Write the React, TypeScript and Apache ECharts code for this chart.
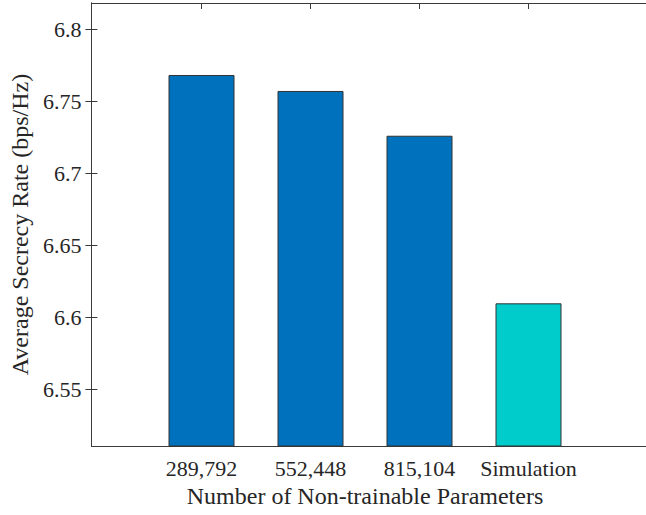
import React, { useEffect, useRef } from "react";
import * as echarts from "echarts";

const categories = ["289,792", "552,448", "815,104", "Simulation"];
const values = [6.7683, 6.7572, 6.7261, 6.6097];
const barColors = ["#0072BD", "#0072BD", "#0072BD", "#00CCCC"];
const yTicks = [6.55, 6.6, 6.65, 6.7, 6.75, 6.8];
const yMin = 6.5106;
const yMax = 6.8183;

const FONT = "Liberation Serif";
const TEXT = "#262626";
const LINE = "#3a3a3a";

export default function App() {
  const ref = useRef<HTMLDivElement>(null);
  useEffect(() => {
    if (!ref.current) return;
    const chart = echarts.init(ref.current, null, { renderer: "svg" });
    const gridPos = { top: 3, height: 443 };
    chart.setOption({
      animation: false,
      backgroundColor: "#ffffff",
      textStyle: { fontFamily: FONT },
      grid: [
        { left: 82, width: 565, ...gridPos },
        { left: 147, width: 436, ...gridPos },
      ],
      xAxis: [
        {
          gridIndex: 0, type: "value", min: 0, max: 1, position: "bottom",
          axisLine: { show: true, lineStyle: { color: LINE, width: 1 } },
          axisTick: { show: false }, axisLabel: { show: false }, splitLine: { show: false },
        },
        {
          gridIndex: 0, type: "value", min: 0, max: 1, position: "top",
          axisLine: { show: true, lineStyle: { color: LINE, width: 1 } },
          axisTick: { show: false }, axisLabel: { show: false }, splitLine: { show: false },
        },
        {
          gridIndex: 1, type: "category", data: categories, position: "bottom",
          axisLine: { show: false },
          axisTick: { show: true, inside: true, alignWithLabel: true, interval: 0, length: 6, lineStyle: { color: LINE } },
          axisLabel: { interval: 0, color: TEXT, fontFamily: FONT, fontSize: 22, margin: 11 },
          name: "Number of Non-trainable Parameters",
          nameLocation: "middle",
          nameGap: 38,
          nameTextStyle: { color: TEXT, fontFamily: FONT, fontSize: 24 },
        },
        {
          gridIndex: 1, type: "category", data: categories, position: "top",
          axisLine: { show: false },
          axisTick: { show: true, inside: true, alignWithLabel: true, interval: 0, length: 6, lineStyle: { color: LINE } },
          axisLabel: { show: false },
        },
      ],
      yAxis: [
        {
          gridIndex: 0, type: "value", min: yMin, max: yMax, position: "left",
          axisLine: { show: true, lineStyle: { color: LINE, width: 1 } },
          axisTick: { show: true, inside: true, length: 6, customValues: yTicks, lineStyle: { color: LINE } },
          axisLabel: {
            customValues: yTicks, color: TEXT, fontFamily: FONT, fontSize: 22, margin: 10,
            formatter: (v: number) => String(Math.round(v * 100) / 100),
          },
          splitLine: { show: false },
          name: "Average Secrecy Rate (bps/Hz)",
          nameLocation: "middle",
          nameGap: 57,
          nameTextStyle: { color: TEXT, fontFamily: FONT, fontSize: 24 },
        },
        {
          gridIndex: 0, type: "value", min: yMin, max: yMax, position: "right",
          axisLine: { show: true, lineStyle: { color: LINE, width: 1 } },
          axisTick: { show: true, inside: true, length: 6, customValues: yTicks, lineStyle: { color: LINE } },
          axisLabel: { show: false },
          splitLine: { show: false },
        },
        {
          gridIndex: 1, type: "value", min: yMin, max: yMax, show: false,
          splitLine: { show: false },
        },
      ],
      series: [
        {
          type: "bar",
          xAxisIndex: 2,
          yAxisIndex: 2,
          barWidth: 66,
          data: values.map((v, i) => ({
            value: v,
            itemStyle: { color: barColors[i], borderColor: "#333333", borderWidth: 1 },
          })),
        },
      ],
    });
    return () => chart.dispose();
  }, []);
  return (
    <div
      ref={ref}
      style={{ position: "fixed", left: 0, top: 0, width: 646, height: 515 }}
    />
  );
}
